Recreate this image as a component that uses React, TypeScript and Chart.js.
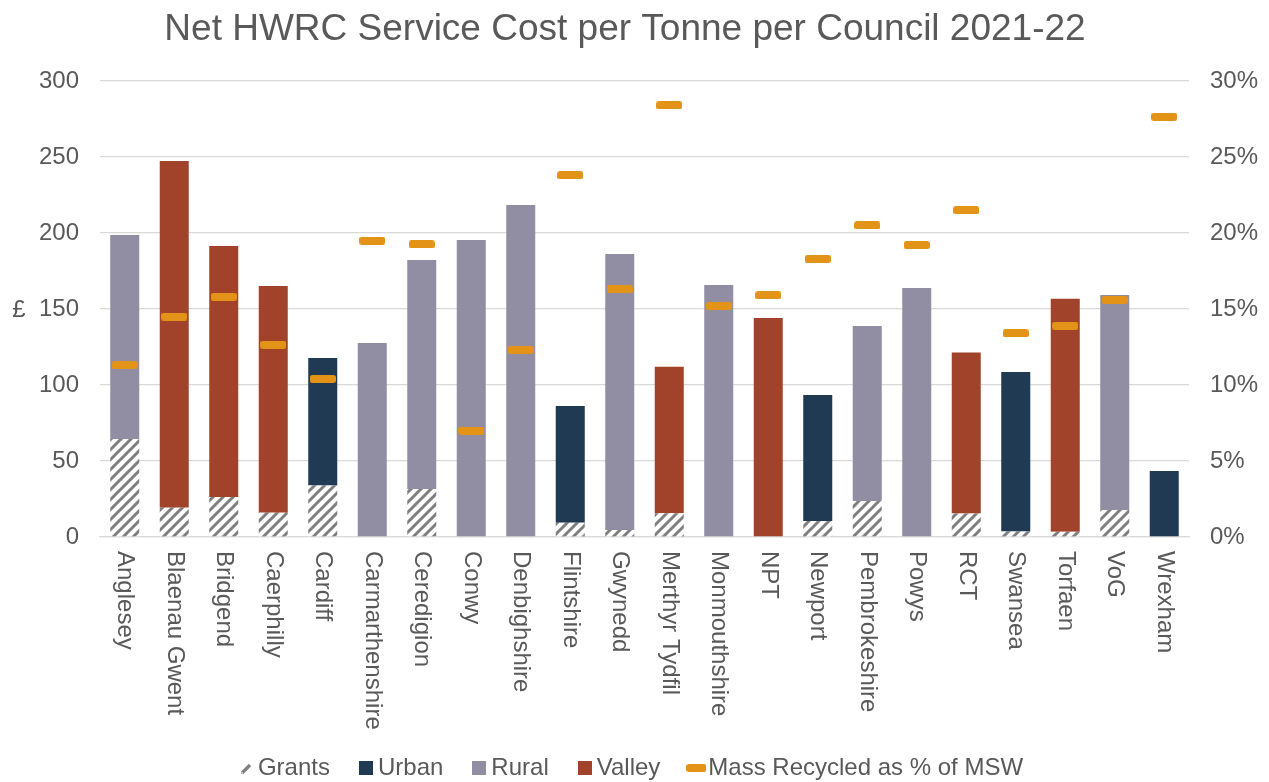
import React, { useEffect, useRef } from "react";
import { Chart, registerables } from "chart.js";

Chart.register(...registerables);

const chartTitle = "Net HWRC Service Cost per Tonne per Council 2021-22";

const categories = [
  "Anglesey", "Blaenau Gwent", "Bridgend", "Caerphilly", "Cardiff", "Carmarthenshire",
  "Ceredigion", "Conwy", "Denbighshire", "Flintshire", "Gwynedd", "Merthyr Tydfil",
  "Monmouthshire", "NPT", "Newport", "Pembrokeshire", "Powys", "RCT", "Swansea",
  "Torfaen", "VoG", "Wrexham",
];

const grants = [64.5, 19.3, 26.3, 16, 33.8, 0, 31.6, 0, 0, 9.4, 4.6, 15.6, 0, 0, 10.5, 23.7, 0, 15.4, 3.6, 3.4, 17.8, 0];
const urban = [null, null, null, null, 84, null, null, null, null, 76.8, null, null, null, null, 82.9, null, null, null, 105, null, null, 43.4];
const rural = [134.2, null, null, null, null, 127.6, 150.6, 195.4, 218.4, null, 181.6, null, 165.8, null, null, 115.1, 163.8, null, null, null, 141.4, null];
const valley = [null, 228.1, 165.1, 149.1, null, null, null, null, null, null, null, 96.4, null, 144, null, null, null, 105.9, null, 153.4, null, null];
const recycledPct = [11.3, 14.5, 15.8, 12.65, 10.4, 19.5, 19.25, 7.0, 12.3, 23.8, 16.3, 28.4, 15.2, 15.9, 18.3, 20.5, 19.2, 21.5, 13.4, 13.9, 15.6, 27.65];

const leftTicks = [0, 50, 100, 150, 200, 250, 300];
const rightTicks = [0, 5, 10, 15, 20, 25, 30];

const TEXT = "#595959";
const GRID = "#d9d9d9";
const FONT = "'Liberation Sans', Arial, sans-serif";
const C_URBAN = "#1F3A52";
const C_RURAL = "#918EA3";
const C_VALLEY = "#A1432B";
const C_MARK = "#E39317";
const C_HATCH = "#7f7f7f";

function makeCanvas(w: number, h: number) {
  const c = document.createElement("canvas");
  c.width = w;
  c.height = h;
  return c;
}

function hatchPattern(ctx: CanvasRenderingContext2D) {
  const p = 10;
  const c = makeCanvas(p, p);
  const g = c.getContext("2d")!;
  g.fillStyle = "#ffffff";
  g.fillRect(0, 0, p, p);
  g.strokeStyle = C_HATCH;
  g.lineWidth = 3;
  g.beginPath();
  g.moveTo(-1, p + 1);
  g.lineTo(p + 1, -1);
  g.moveTo(-2, 2);
  g.lineTo(2, -2);
  g.moveTo(p - 2, p + 2);
  g.lineTo(p + 2, p - 2);
  g.stroke();
  return ctx.createPattern(c, "repeat")!;
}

function roundRect(g: CanvasRenderingContext2D, x: number, y: number, w: number, h: number, r: number) {
  g.beginPath();
  g.moveTo(x + r, y);
  g.lineTo(x + w - r, y);
  g.arcTo(x + w, y, x + w, y + r, r);
  g.lineTo(x + w, y + h - r);
  g.arcTo(x + w, y + h, x + w - r, y + h, r);
  g.lineTo(x + r, y + h);
  g.arcTo(x, y + h, x, y + h - r, r);
  g.lineTo(x, y + r);
  g.arcTo(x, y, x + r, y, r);
  g.closePath();
}

function dashImage(w: number, h: number) {
  const c = makeCanvas(w, h);
  const g = c.getContext("2d")!;
  g.fillStyle = C_MARK;
  roundRect(g, 0, 0, w, h, 2.5);
  g.fill();
  return c;
}

function squareImage(color: string) {
  const c = makeCanvas(14, 14);
  const g = c.getContext("2d")!;
  g.fillStyle = color;
  g.fillRect(0, 0, 14, 14);
  return c;
}

function grantsIcon() {
  const c = makeCanvas(12, 14);
  const g = c.getContext("2d")!;
  g.strokeStyle = C_HATCH;
  g.lineWidth = 3.2;
  g.beginPath();
  g.moveTo(2, 12);
  g.lineTo(10, 4);
  g.stroke();
  g.fillStyle = "#bfbfbf";
  g.fillRect(1, 11, 2, 2);
  return c;
}

const extraText = {
  id: "extraText",
  afterDraw(chart: any) {
    const ctx = chart.ctx;
    const xs = chart.scales.x;
    const area = chart.chartArea;
    ctx.save();
    ctx.fillStyle = TEXT;
    ctx.font = `37px ${FONT}`;
    ctx.textAlign = "center";
    ctx.textBaseline = "alphabetic";
    ctx.fillText(chartTitle, 625, 40);
    ctx.font = `24px ${FONT}`;
    categories.forEach((label, i) => {
      const x = xs.getPixelForValue(i);
      ctx.save();
      ctx.translate(x, area.bottom + 14);
      ctx.rotate(Math.PI / 2);
      ctx.textAlign = "left";
      ctx.textBaseline = "middle";
      ctx.fillText(label, 0, 0);
      ctx.restore();
    });
    ctx.textAlign = "center";
    ctx.textBaseline = "middle";
    ctx.fillText("£", 19, 310);
    ctx.restore();
  },
};

export default function App() {
  const ref = useRef<HTMLCanvasElement | null>(null);

  useEffect(() => {
    document.body.style.margin = "0";
    const canvas = ref.current!;
    const ctx = canvas.getContext("2d")!;
    const pattern = hatchPattern(ctx);
    const markImg = dashImage(26, 8);
    const legendImgs = [grantsIcon(), squareImage(C_URBAN), squareImage(C_RURAL), squareImage(C_VALLEY), dashImage(20, 8)];

    const chart = new Chart(ctx, {
      type: "bar",
      data: {
        labels: categories,
        datasets: [
          { label: "Grants", data: grants, backgroundColor: pattern, stack: "s", order: 1 },
          { label: "Urban", data: urban, backgroundColor: C_URBAN, stack: "s", order: 1 },
          { label: "Rural", data: rural, backgroundColor: C_RURAL, stack: "s", order: 1 },
          { label: "Valley", data: valley, backgroundColor: C_VALLEY, stack: "s", order: 1 },
          {
            type: "line",
            label: "Mass Recycled as % of MSW",
            data: recycledPct,
            yAxisID: "y1",
            showLine: false,
            pointStyle: markImg,
            pointRadius: 10,
            pointHoverRadius: 10,
            backgroundColor: C_MARK,
            borderColor: C_MARK,
            order: 0,
          } as any,
        ],
      },
      options: {
        responsive: false,
        animation: false,
        devicePixelRatio: 1,
        layout: { padding: { top: 81, left: 0, right: 0, bottom: -8 } },
        datasets: {
          bar: { categoryPercentage: 1, barPercentage: 0.586 },
        },
        plugins: {
          tooltip: { enabled: false },
          title: { display: false, text: chartTitle },
          legend: {
            display: true,
            position: "bottom",
            labels: {
              usePointStyle: true,
              pointStyleWidth: 0.01,
              padding: 36,
              color: TEXT,
              font: { family: FONT, size: 24 },
              generateLabels: (ch: any) =>
                ch.data.datasets.map((ds: any, i: number) => ({
                  text: ds.label,
                  fillStyle: "transparent",
                  strokeStyle: "transparent",
                  lineWidth: 0,
                  pointStyle: legendImgs[i],
                  fontColor: TEXT,
                  hidden: false,
                  datasetIndex: i,
                })),
            },
          },
        },
        scales: {
          x: {
            stacked: true,
            grid: { display: false },
            border: { display: true, color: GRID, width: 1.3 },
            ticks: { display: false },
            afterFit: (s: any) => { s.height = 183; },
          },
          y: {
            stacked: true,
            position: "left",
            min: leftTicks[0],
            max: leftTicks[leftTicks.length - 1],
            afterBuildTicks: (s: any) => { s.ticks = leftTicks.map((v) => ({ value: v })); },
            ticks: { color: TEXT, font: { family: FONT, size: 24 }, padding: 21 },
            grid: { color: GRID, lineWidth: 1.3, drawTicks: false },
            border: { display: false },
            afterFit: (s: any) => { s.width = 100; },
          },
          y1: {
            position: "right",
            min: rightTicks[0],
            max: rightTicks[rightTicks.length - 1],
            afterBuildTicks: (s: any) => { s.ticks = rightTicks.map((v) => ({ value: v })); },
            ticks: {
              color: TEXT,
              font: { family: FONT, size: 24 },
              padding: 21,
              callback: (v: any) => `${v}%`,
            },
            grid: { display: false, drawTicks: false },
            border: { display: false },
            afterFit: (s: any) => { s.width = 80; },
          },
        },
      },
      plugins: [extraText],
    });
    return () => chart.destroy();
  }, []);

  return (
    <div style={{ width: 1269, height: 782, background: "#ffffff" }}>
      <canvas ref={ref} width={1269} height={782} style={{ display: "block" }} />
    </div>
  );
}
